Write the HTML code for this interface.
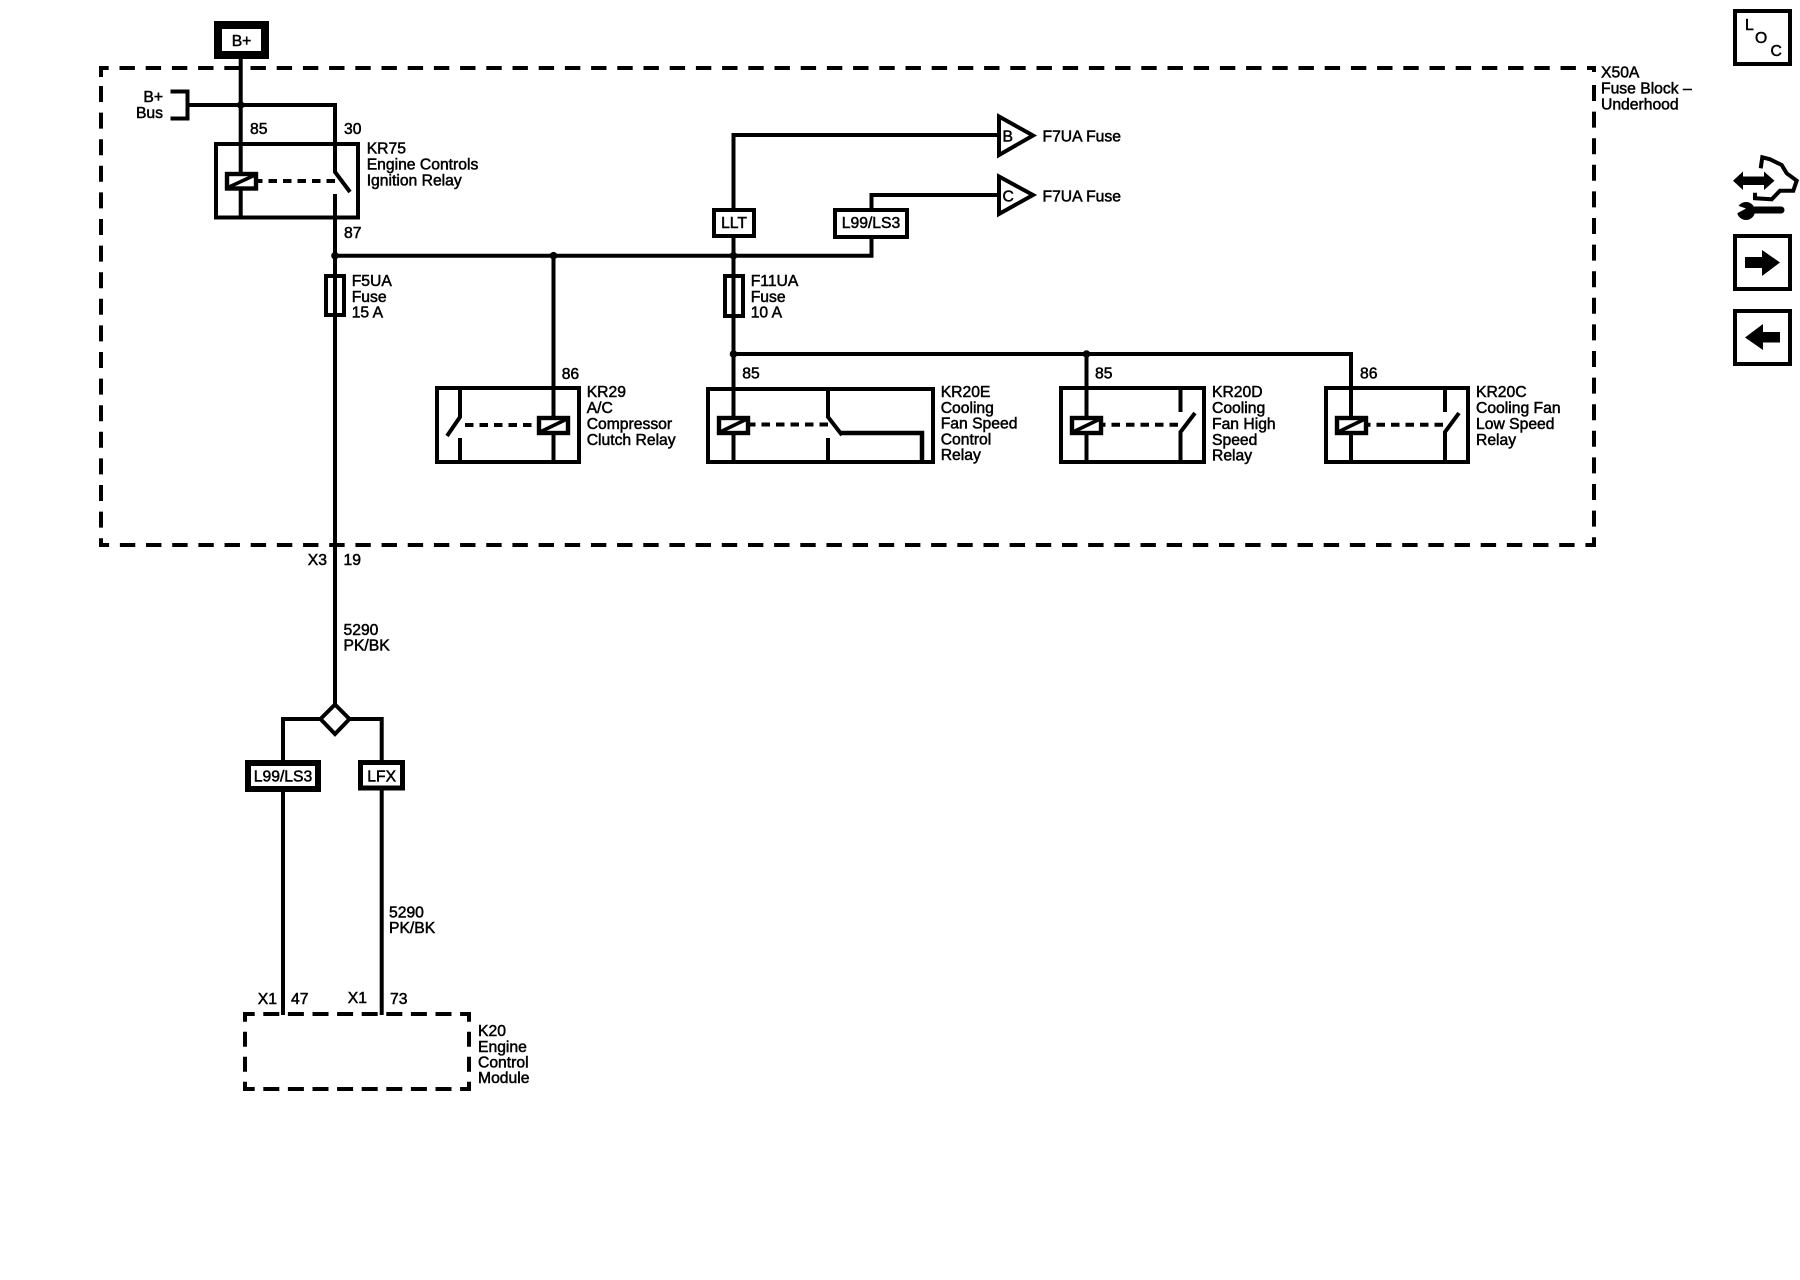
<!DOCTYPE html>
<html>
<head>
<meta charset="utf-8">
<style>
html,body{margin:0;padding:0;background:#fff;width:1800px;height:1280px;overflow:hidden}
svg{display:block}
text{font-family:"Liberation Sans",Arial,sans-serif;font-size:15.7px;fill:#000;stroke:#000;stroke-width:.5px}
.w{fill:none;stroke:#000;stroke-width:4}
.b{fill:#fff;stroke:#000;stroke-width:4}
.c{fill:#fff;stroke:#000;stroke-width:4.4}
.g{fill:none;stroke:#000;stroke-width:3.6}
.d{fill:none;stroke:#000;stroke-width:4;stroke-dasharray:8.5 6}
.e{text-anchor:end}
.m{text-anchor:middle}
</style>
</head>
<body>
<svg width="1800" height="1280" viewBox="0 0 1800 1280" xmlns="http://www.w3.org/2000/svg">
<!-- Fuse block dashed outline -->
<g fill="none" stroke="#000" stroke-width="4">
<path d="M101 66 V77 M99 68 H108.7"/>
<line x1="119.5" y1="68" x2="1586" y2="68" stroke-dasharray="15.4 10.8"/>
<path d="M1587 68 H1596 M1594 66 V72"/>
<line x1="101" y1="86" x2="101" y2="547" stroke-dasharray="16 10.6"/>
<line x1="1594" y1="85" x2="1594" y2="547" stroke-dasharray="16 10.6"/>
<line x1="99" y1="545" x2="1596" y2="545" stroke-dasharray="15.4 10.77" stroke-dashoffset="5.3"/>
</g>
<!-- K20 dashed outline -->
<g fill="none" stroke="#000" stroke-width="4">
<line x1="243" y1="1014" x2="470" y2="1014" stroke-dasharray="16 8.6" stroke-dashoffset="4.3"/>
<line x1="243" y1="1089" x2="470" y2="1089" stroke-dasharray="16 8.6" stroke-dashoffset="4.3"/>
<line x1="245" y1="1012" x2="245" y2="1091" stroke-dasharray="15 10" stroke-dashoffset="5.3"/>
<line x1="469" y1="1012" x2="469" y2="1091" stroke-dasharray="15 10" stroke-dashoffset="5.3"/>
</g>

<!-- Wires -->
<path class="w" d="M240.7 55 V217"/>
<path class="w" d="M187 105 H335 V172 L350 192"/>
<path class="w" d="M170.5 91.5 H187.5 V118.5 H170.5"/>
<path class="w" d="M335 194 V705"/>
<path class="w" d="M335 255.7 H871.5 V195 H999"/>
<path class="w" d="M553.5 255 V462"/>
<path class="w" d="M733.5 462 V135 H999"/>
<path class="w" d="M733.5 354 H1351 V462"/>
<path class="w" d="M1086.5 354 V462"/>
<path class="w" d="M283 790 V1015 M283 760 V719 H381.7 V760 M381.7 790 V1015"/>

<!-- junctions -->
<g fill="#000">
<circle cx="240.7" cy="105" r="3.8"/>
<circle cx="335" cy="255.7" r="3.8"/>
<circle cx="553.5" cy="255.7" r="3.8"/>
<circle cx="733.5" cy="255.7" r="3.8"/>
<circle cx="733.5" cy="354" r="3.8"/>
<circle cx="1086.5" cy="354" r="3.8"/>
</g>

<!-- B+ -->
<rect x="218" y="25" width="47" height="30" fill="#fff" stroke="#000" stroke-width="8"/>
<text x="241.5" y="46" class="m">B+</text>
<text x="163" y="102" class="e">B+</text>
<text x="163" y="118" class="e">Bus</text>

<!-- KR75 -->
<rect x="216" y="144" width="142" height="73.5" class="w"/>
<rect x="227" y="174" width="29" height="14.5" class="c"/>
<path class="g" d="M228 187.5 L255 175"/>
<path class="d" d="M335 181 H258"/>
<text x="250" y="134">85</text>
<text x="344" y="134">30</text>
<text x="344" y="238">87</text>
<text x="366.7" y="153.5">KR75</text>
<text x="366.7" y="169.5">Engine Controls</text>
<text x="366.7" y="185.5">Ignition Relay</text>

<!-- F5UA -->
<rect x="326" y="276" width="18" height="39" class="w"/>
<text x="351.7" y="286">F5UA</text>
<text x="351.7" y="302">Fuse</text>
<text x="351.7" y="317.5">15 A</text>

<!-- F11UA -->
<rect x="725" y="276" width="18" height="40" class="w"/>
<text x="750.7" y="286">F11UA</text>
<text x="750.7" y="302">Fuse</text>
<text x="750.7" y="317.5">10 A</text>

<!-- option boxes -->
<rect x="714" y="210" width="40" height="26" class="b"/>
<text x="734" y="228" class="m">LLT</text>
<rect x="835" y="210" width="72" height="27" class="b"/>
<text x="871" y="228" class="m">L99/LS3</text>

<!-- triangles -->
<path class="b" d="M999 116.5 L1033 135.5 L999 155 Z"/>
<text x="1002.5" y="141.5">B</text>
<text x="1042.5" y="141.5">F7UA Fuse</text>
<path class="b" d="M999 176.5 L1033 195 L999 214 Z"/>
<text x="1002.5" y="201.5">C</text>
<text x="1042.5" y="201.5">F7UA Fuse</text>

<!-- KR29 -->
<rect x="437" y="388" width="142" height="74" class="w"/>
<path class="w" d="M460 388 V417 L447 436 M460 438 V462"/>
<path class="w" d="M553.5 388 V462"/>
<path class="d" d="M465 425 H537"/>
<rect x="539" y="418" width="29" height="15" class="c"/>
<path class="g" d="M540 432 L567 419"/>
<text x="561.7" y="379">86</text>
<text x="586.7" y="397">KR29</text>
<text x="586.7" y="413">A/C</text>
<text x="586.7" y="429">Compressor</text>
<text x="586.7" y="445">Clutch Relay</text>

<!-- KR20E -->
<rect x="708" y="389" width="225" height="73" class="w"/>
<path class="w" d="M828 389 V417 L842 435 M828 438 V462"/>
<path class="w" style="stroke-width:4.5" d="M840 433 H922 V462"/>
<path class="d" d="M828 424.5 H750"/>
<rect x="719" y="418" width="29" height="15" class="c"/>
<path class="g" d="M720 432 L747 419"/>
<text x="742.3" y="378.5">85</text>
<text x="940.7" y="397">KR20E</text>
<text x="940.7" y="413">Cooling</text>
<text x="940.7" y="428.5">Fan Speed</text>
<text x="940.7" y="444.5">Control</text>
<text x="940.7" y="460">Relay</text>

<!-- KR20D -->
<rect x="1061" y="388" width="143" height="74" class="w"/>
<path class="w" d="M1180.5 388 V412 M1195 413 L1180.5 432 V462"/>
<path class="d" d="M1178 424.7 H1102"/>
<rect x="1072" y="418" width="29" height="15" class="c"/>
<path class="g" d="M1073 432 L1100 419"/>
<text x="1095" y="378.5">85</text>
<text x="1212" y="397">KR20D</text>
<text x="1212" y="413">Cooling</text>
<text x="1212" y="429">Fan High</text>
<text x="1212" y="445">Speed</text>
<text x="1212" y="460.5">Relay</text>

<!-- KR20C -->
<rect x="1326" y="388" width="142" height="74" class="w"/>
<path class="w" d="M1445 388 V412 M1459 413 L1445 432 V462"/>
<path class="d" d="M1443 424.7 H1368"/>
<rect x="1337" y="418" width="29" height="15" class="c"/>
<path class="g" d="M1338 432 L1365 419"/>
<text x="1360" y="378.5">86</text>
<text x="1476" y="397">KR20C</text>
<text x="1476" y="413">Cooling Fan</text>
<text x="1476" y="429">Low Speed</text>
<text x="1476" y="445">Relay</text>

<!-- X50A -->
<text x="1601" y="77.5">X50A</text>
<text x="1601" y="93.5">Fuse Block –</text>
<text x="1601" y="109.5">Underhood</text>

<!-- connector labels -->
<text x="327" y="565" class="e">X3</text>
<text x="343.5" y="565">19</text>
<text x="343.5" y="635">5290</text>
<text x="343.5" y="650.5">PK/BK</text>

<!-- splice diamond -->
<path class="b" d="M335 704.5 L349.5 719 L335 734 L320.5 719 Z"/>

<!-- lower options -->
<rect x="248" y="763" width="70" height="26" fill="#fff" stroke="#000" stroke-width="6"/>
<text x="283" y="781.5" class="m">L99/LS3</text>
<rect x="360.5" y="762.5" width="42" height="25.5" fill="#fff" stroke="#000" stroke-width="5"/>
<text x="381.7" y="781.5" class="m">LFX</text>

<text x="389" y="917.5">5290</text>
<text x="389" y="933">PK/BK</text>

<text x="277" y="1004" class="e">X1</text>
<text x="291" y="1004">47</text>
<text x="367" y="1003" class="e">X1</text>
<text x="390" y="1004">73</text>

<text x="478" y="1036">K20</text>
<text x="478" y="1052">Engine</text>
<text x="478" y="1067.5">Control</text>
<text x="478" y="1083">Module</text>

<!-- LOC -->
<rect x="1735" y="11" width="55" height="53" class="w"/>
<text x="1745" y="30">L</text>
<text x="1755" y="43">O</text>
<text x="1770.5" y="56">C</text>

<!-- tool icon -->
<path d="M1733 180.7 L1743 171.5 V176.5 H1764 V171.5 L1774.5 180.7 L1764 190 V185 H1743 V190 Z" fill="#000"/>
<path class="w" d="M1760.7 168.3 L1762.3 157.3 L1770 159.3 L1781.7 165 L1786.7 173.3 L1796.7 180.7 L1793.3 190.7 L1780 190.7 L1771.7 199.3 L1755 198.3 L1755 192.7"/>
<path class="w" style="stroke-width:7;stroke-linecap:round" d="M1752 210 H1781"/>
<circle cx="1746" cy="211" r="9" fill="#000"/>
<path d="M1736 205 L1746 208.5 L1736 214 Z" fill="#fff"/>

<!-- right arrow -->
<rect x="1735" y="236" width="55" height="53" class="w"/>
<path d="M1745 257 H1762 V250 L1780 262.5 L1762 276 V268 H1745 Z" fill="#000"/>
<!-- left arrow -->
<rect x="1735" y="311" width="55" height="53" class="w"/>
<path d="M1780 332 H1763 V324 L1745 337.5 L1763 350 V342.5 H1780 Z" fill="#000"/>
</svg>
</body>
</html>
